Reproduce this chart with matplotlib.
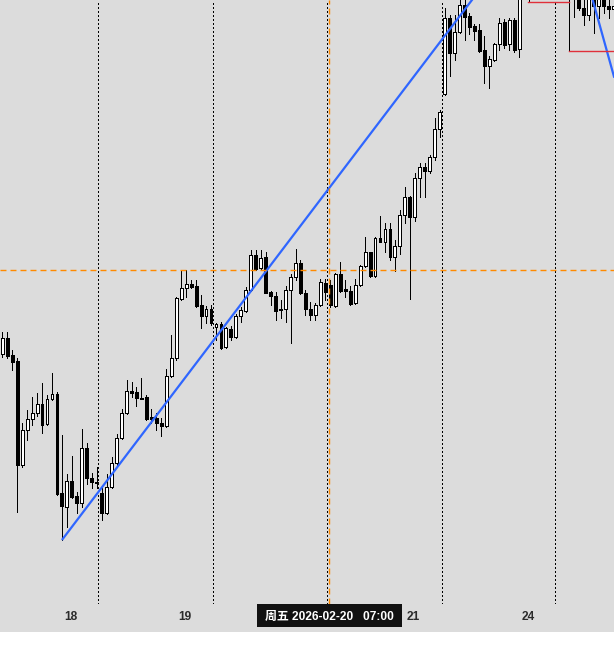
import numpy as np
import matplotlib
matplotlib.use("Agg")
import matplotlib.pyplot as plt
from matplotlib.patches import Rectangle
from matplotlib.transforms import blended_transform_factory

# H1 candles, values read off the picture as depth from the top edge (px),
# so a smaller number means a higher price. nan = bar out of view.
nan = np.nan
open_y = [354, 338, 355, 361, 465, 430, 419, 413, 404, 424,
          399, 394, 493, 507, 481, 496, 503, 448, 478, 481.5,
          493, 513, 487, 463, 438, 413, 391, 392, 397.5, 397,
          417, 418, 423, 426, 376, 358, 299, 288, 284, 286,
          305, 316, 309, 327, 324, 347, 329, 337, 316, 311,
          290, 255, 268, 257, 292, 296, 308.5, 309, 290, 277,
          263, 293, 309, 315, 305, 283, 285, 306, 274, 289,
          291, 303, 285, 266, 252, 276, 238, 242, 229, 257,
          246, 215, 197, 217, 178, 167, 171, 157, 129, 94,
          18, 53, 32, 5, 16, 26, 30, 50, 66, 60,
          44, 22, 44, 20, 49, nan, -10, nan, nan, nan,
          nan, nan, nan, nan, -20, -15, -5, 8, 15, -5,
          6, -5, 6, 9]
close_y = [338, 356, 362, 465, 430, 419, 413, 404, 425, 399,
           394, 494, 506, 481, 497, 503, 448, 478, 482, 482.5,
           513, 487, 463, 438, 413, 391, 393, 398, 398.5, 419,
           419, 423, 426, 376, 358, 298, 288, 284, 287, 306,
           316, 309, 323, 324, 348, 328, 337, 316, 310, 290,
           255, 269, 258, 293, 296, 311, 309.5, 290, 277, 263,
           293, 309, 315, 305, 282, 292, 305, 274, 291, 291,
           304, 285, 266, 252, 276, 238, 242, 229, 257, 246,
           215, 197, 217, 178, 167, 171, 157, 129, 112, 18,
           53, 32, 5, 17, 27, 31, 51, 66, 59, 44,
           23, 45, 20, 50, -20, nan, -20, nan, nan, nan,
           nan, nan, nan, nan, -10, -5, 8, 15, -5, 6,
           -5, 6, 9, 6]
high_y = [332, 332, 350, 358, 423, 410, 397, 393, 383, 395,
          373, 392, 435, 474, 456, 492, 429, 443, 473, 467,
          487, 474, 457, 434, 409, 380, 382, 387, 378, 395,
          409, 413, 418, 369, 335, 297, 270, 270, 280, 280,
          295, 306, 305, 323, 322, 327, 326, 314, 307, 287,
          250, 250, 250, 252, 291, 292, 300, 286, 274, 249,
          260, 290, 302, 303, 279, 279, 280, 273, 262, 280,
          286, 279, 265, 237, 252, 237, 216, 223, 223, 240,
          210, 187, 196, 173, 163, 163, 155, 118, 110, 8,
          15, 15, -3, -2, 13, 24, 24, 36, 56, 43,
          18, 19, 18, 18, -30, nan, -30, nan, nan, nan,
          nan, nan, nan, nan, -30, -25, -20, -5, -10, -10,
          -10, -10, -5, -5]
low_y = [357, 358, 370, 512, 467, 440, 425, 416, 433, 425,
         400, 495, 540, 527, 498, 513, 507, 484, 488, 488,
         520, 514, 488, 467, 439, 414, 397, 406, 399, 420,
         423, 430, 436, 427, 377, 360, 300, 297, 288, 307,
         328, 323, 325, 340, 349, 348, 340, 338, 322, 312,
         291, 270, 269, 293, 305, 320, 318, 322, 343, 280,
         294, 315, 320, 320, 306, 300, 307, 307, 292, 297,
         305, 304, 286, 267, 277, 277, 242, 252, 260, 271,
         254, 223, 299, 221, 197, 197, 173, 160, 137, 95,
         76, 60, 33, 40, 34, 40, 52, 83, 88, 61,
         50, 48, 50, 52, 57, nan, 2, nan, nan, nan,
         nan, nan, nan, nan, 51, 17, 10, 25, 20, 33,
         18, 13, 18, 18]

# day separators and time labels (bar index)
day_sep = [19.3, 42.45, 65.4, 88.4, 111.3]
day_label_pos = [13.8, 36.8, 82.6, 105.8]
day_labels = ["18", "19", "21", "24"]

# trend lines: (bar, depth) anchors
trend_up = [(12, 540), (94.5, 0)]
trend_down = [(118.8, 0), (123.1, 77)]

# red level segments: (start bar, end bar, depth)
red_levels = [(105.8, 114.0, 1.5), (114.0, 124.0, 51)]

# crosshair
cross_bar = 65.8
cross_level = 270.3
cross_text = "周五 2026-02-20   07:00"

BG = "#dcdcdc"
W, H = 614, 647

fig = plt.figure(figsize=(W / 100, H / 100), dpi=100, facecolor="white")
fig.patches.append(Rectangle((0, 15 / H), 1, 632 / H, transform=fig.transFigure,
                             facecolor=BG, edgecolor="none", zorder=-10))
ax = fig.add_axes([0, 43 / H, 1, 604 / H])
ax.set_facecolor(BG)
ax.set_zorder(1)

x = np.arange(len(open_y))
o = np.array(open_y, float)
c = np.array(close_y, float)
hi = np.array(high_y, float)
lo = np.array(low_y, float)
ok = ~np.isnan(o)

# separators behind the candles
for s in day_sep:
    ax.axvline(s, color="black", lw=0.72, linestyle=(0, (1.4, 2.8)),
               antialiased=False, zorder=1)

# wicks
ax.vlines(x[ok], hi[ok], lo[ok], color="black", lw=0.72,
          antialiased=False, zorder=2)

# bodies
bull = ok & (c < o)
bear = ok & ~(c < o)
body_w = 0.58
for m, fc in ((bull, "white"), (bear, "black")):
    top = np.minimum(o[m], c[m])
    hgt = np.maximum(np.abs(o[m] - c[m]), 0.8)
    ax.bar(x[m], hgt, bottom=top, width=body_w, color=fc,
           edgecolor="black", linewidth=0.72, antialiased=False, zorder=3)

# trend lines
(x0, y0), (x1, y1) = trend_up
slope = (y1 - y0) / (x1 - x0)
ax.plot([x0, x1 + 8], [y0, y1 + 8 * slope], color="#2f66ff", lw=1.6,
        solid_capstyle="butt", zorder=4)
ax.axline(trend_down[0], trend_down[1], color="#2f66ff", lw=1.6, zorder=4)

# red levels
for xs, xe, lv in red_levels:
    ax.plot([xs, xe], [lv, lv], color="#e0303a", lw=1.0, zorder=4)

# crosshair
ax.axhline(cross_level, color="#ff8a00", lw=1.0, linestyle=(0, (4.3, 2.9)), zorder=5)
ax.axvline(cross_bar, color="#ff8a00", lw=1.0, linestyle=(0, (4.3, 2.9)), zorder=5)

ax.set_xlim(-0.46, 123.08)
ax.set_ylim(604, 0)
ax.axis("off")

# time labels
fam = ["Liberation Sans", "Noto Sans CJK SC", "DejaVu Sans"]
tr = blended_transform_factory(ax.transData, ax.transAxes)
for p, t in zip(day_label_pos, day_labels):
    ax.text(p, -13.5 / 604, t, transform=tr, ha="center", va="center",
            fontsize=8.6, fontweight="bold", color="#2b2b2b", family=fam,
            clip_on=False)

# crosshair time box
fig.patches.append(Rectangle((257 / W, (H - 627) / H), 145 / W, 23 / H,
                             transform=fig.transFigure, facecolor="#111111",
                             edgecolor="none", zorder=5))
fig.text(329.5 / W, (H - 616.5) / H, cross_text, ha="center", va="center",
         fontsize=8.6, fontweight="bold", color="white", family=fam, zorder=6)

fig.savefig("out.png", dpi=100, facecolor="white")
